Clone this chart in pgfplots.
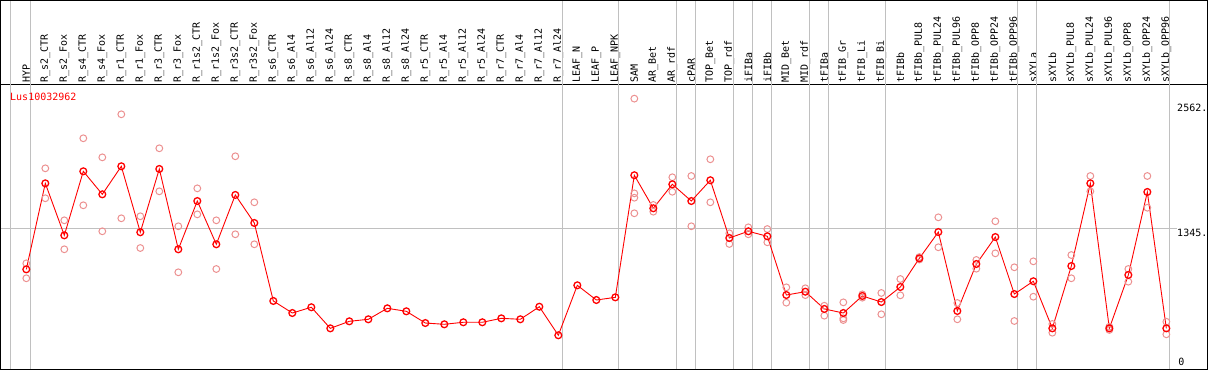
\documentclass[border=0pt]{standalone}
\usepackage{pgfplots}
\pgfplotsset{compat=1.18}
\usepackage{fontspec}
\setmonofont{DejaVu Sans Mono}
\definecolor{gridg}{RGB}{192,192,192}
\definecolor{repc}{RGB}{236,145,145}
\definecolor{mainr}{RGB}{255,0,0}
\pgfplotstableread{
x y
0 960
1 1767
2 1279
3 1880
4 1664
5 1927
6 1308
7 1902
8 1148
9 1601
10 1195
11 1658
12 1395
13 663
14 550
15 604
16 406
17 472
18 491
19 594
20 566
21 456
22 444
23 463
24 463
25 500
26 491
27 609
28 341
29 810
30 672
31 697
32 1843
33 1533
34 1758
35 1601
36 1796
37 1254
38 1317
39 1270
40 719
41 750
42 588
43 550
44 710
45 653
46 794
47 1063
48 1310
49 569
50 1010
51 1263
52 728
53 848
54 406
55 991
56 1767
57 406
58 907
59 1686
60 406
}\maindata
\pgfplotstableread{
x y
0 1016
0 876
1 1908
1 1627
2 1420
2 1148
3 2190
3 1561
4 2011
4 1317
5 2415
5 1439
6 1458
6 1160
7 2096
7 1692
8 1364
8 932
9 1720
9 1476
10 1420
10 963
11 2021
11 1289
12 1589
12 1195
32 2562
32 1673
32 1632
32 1486
33 1564
33 1501
34 1824
34 1688
35 1836
35 1364
36 1993
36 1589
37 1298
37 1198
38 1354
38 1289
39 1338
39 1214
40 791
40 647
41 782
41 718
42 618
42 525
43 650
43 500
43 484
44 694
44 725
45 738
45 538
46 869
46 716
47 1075
47 1052
48 1448
48 1167
49 644
49 491
50 1048
50 966
51 1411
51 1110
52 979
52 475
53 1035
53 703
54 447
54 365
55 1094
55 876
56 1836
56 1692
57 421
57 391
58 963
58 844
59 1836
59 1538
60 468
60 350
}\repdata
\begin{document}
\begin{tikzpicture}
\begin{axis}[
  scale only axis,
  width=1206pt, height=284pt,
  xmin=-1.332, xmax=62.14,
  ymin=24.4, ymax=2690,
  clip=false,
  axis line style={black, line width=1pt},
  xtick={0,...,60},
  xticklabels={HYP,R\_s2\_CTR,R\_s2\_Fox,R\_s4\_CTR,R\_s4\_Fox,R\_r1\_CTR,R\_r1\_Fox,R\_r3\_CTR,R\_r3\_Fox,R\_r1s2\_CTR,R\_r1s2\_Fox,R\_r3s2\_CTR,R\_r3s2\_Fox,R\_s6\_CTR,R\_s6\_Al4,R\_s6\_Al12,R\_s6\_Al24,R\_s8\_CTR,R\_s8\_Al4,R\_s8\_Al12,R\_s8\_Al24,R\_r5\_CTR,R\_r5\_Al4,R\_r5\_Al12,R\_r5\_Al24,R\_r7\_CTR,R\_r7\_Al4,R\_r7\_Al12,R\_r7\_Al24,LEAF\_N,LEAF\_P,LEAF\_NPK,SAM,AR\_Bet,AR\_rdf,cPAR,TOP\_Bet,TOP\_rdf,iFIBa,iFIBb,MID\_Bet,MID\_rdf,tFIBa,tFIB\_Gr,tFIB\_Li,tFIB\_Bi,tFIBb,tFIBb\_PUL8,tFIBb\_PUL24,tFIBb\_PUL96,tFIBb\_OPP8,tFIBb\_OPP24,tFIBb\_OPP96,sXYLa,sXYLb,sXYLb\_PUL8,sXYLb\_PUL24,sXYLb\_PUL96,sXYLb\_OPP8,sXYLb\_OPP24,sXYLb\_OPP96},
  xticklabel pos=upper,
  xtick style={draw=none},
  major tick length=0pt,
  xticklabel shift=2pt,
  xticklabel style={rotate=90, anchor=west, inner sep=0pt, outer sep=0pt, font=\ttfamily\fontsize{10}{10}\selectfont},
  ytick=\empty,
]
\coordinate (bl) at (rel axis cs:0,0);
\coordinate (tr) at (rel axis cs:1,1);
\pgfplotsinvokeforeach{-0.842,0.232,28.23,31.19,34.23,35.23,37.23,38.23,39.23,41.23,42.23,45.23,52.19,53.19,60.19}{
  \draw[gridg, line width=1pt] (axis cs:#1,24.4) -- ([yshift=84.5pt]axis cs:#1,2690);
}
\draw[gridg, line width=1pt] (axis cs:-1.332,1345) -- (axis cs:60.55,1345);
\addplot[only marks, mark=o, mark size=3.4pt, color=repc, mark options={line width=1pt}] table[x=x,y=y] {\repdata};
\addplot[color=mainr, line width=0.9pt, mark=o, mark size=3.4pt, mark options={line width=1.3pt}] table[x=x,y=y] {\maindata};
\node[anchor=west, inner sep=0pt, text=mainr, font=\ttfamily\fontsize{10}{10}\selectfont] at (axis cs:-0.858,2580) {Lus10032962};
\node[anchor=west, inner sep=0pt, font=\ttfamily\fontsize{10}{10}\selectfont] at (axis cs:60.563,2471) {2562.};
\node[anchor=west, inner sep=0pt, font=\ttfamily\fontsize{10}{10}\selectfont] at (axis cs:60.563,1304) {1345.};
\node[anchor=west, inner sep=0pt, font=\ttfamily\fontsize{10}{10}\selectfont] at (axis cs:60.62,87) {0};
\end{axis}
\draw[black, line width=1pt] ([yshift=84.5pt]bl |- tr) -- ([yshift=84.5pt]tr);
\draw[black, line width=1pt] (bl |- tr) -- ([yshift=84.5pt]bl |- tr);
\draw[black, line width=1pt] (tr) -- ([yshift=84.5pt]tr);
\pgfresetboundingbox
\useasboundingbox ([shift={(-1pt,-1pt)}]bl) rectangle ([shift={(2pt,85pt)}]tr);
\end{tikzpicture}
\end{document}
